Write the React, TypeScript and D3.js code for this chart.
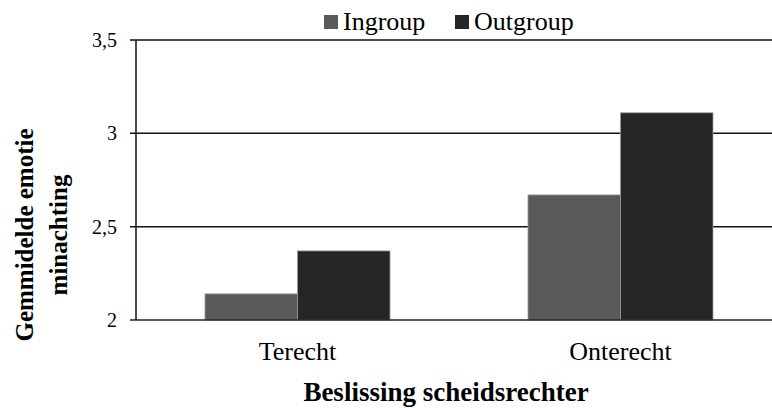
import { useMemo } from "react";
import * as d3 from "d3";

const categories = ["Terecht", "Onterecht"];
const series = ["Ingroup", "Outgroup"];
const ingroupValues = [2.14, 2.67];
const outgroupValues = [2.37, 3.11];
const yTicks = [2, 2.5, 3, 3.5];

const COLORS: Record<string, string> = { Ingroup: "#5a5a5a", Outgroup: "#262626" };
const FONT = "'Liberation Serif', 'Times New Roman', serif";

const WIDTH = 772;
const HEIGHT = 408;
const MARGIN = { top: 40, right: -10, bottom: 88, left: 136 };

const App = () => {
  const boundsWidth = WIDTH - MARGIN.left - MARGIN.right;
  const boundsHeight = HEIGHT - MARGIN.top - MARGIN.bottom;

  const rows = useMemo(
    () =>
      categories.map((c, i) => ({
        category: c,
        Ingroup: ingroupValues[i],
        Outgroup: outgroupValues[i],
      })),
    []
  );

  const xScale = d3.scaleBand().domain(categories).range([0, boundsWidth]);
  const xInner = d3
    .scaleBand()
    .domain(series)
    .range([0, xScale.bandwidth()])
    .paddingOuter(0.746);
  const yScale = d3.scaleLinear().domain([2, 3.5]).range([boundsHeight, 0]);
  const fmt = (v: number) => String(v).replace(".", ",");

  return (
    <svg
      width={WIDTH}
      height={HEIGHT}
      style={{ position: "absolute", left: 0, top: 0, background: "#fff" }}
      fontFamily={FONT}
    >
      {/* legend */}
      <g>
        {series.map((s, i) => {
          const lx = [324, 455][i];
          return (
            <g key={s}>
              <rect x={lx} y={15} width={14} height={14} fill={COLORS[s]} />
              <text x={lx + 19} y={30} fontSize={26}>
                {s}
              </text>
            </g>
          );
        })}
      </g>

      <g transform={`translate(${MARGIN.left},${MARGIN.top})`}>
        {/* gridlines */}
        {yTicks
          .filter((t) => t > 2)
          .map((t) => (
            <line
              key={t}
              x1={-6}
              x2={boundsWidth}
              y1={yScale(t)}
              y2={yScale(t)}
              stroke="#111"
              strokeWidth={1.5}
            />
          ))}

        {/* bars */}
        {rows.map((r) => (
          <g key={r.category} transform={`translate(${xScale(r.category)},0)`}>
            {series.map((s) => {
              const v = (r as any)[s] as number;
              return (
                <rect
                  key={s}
                  x={xInner(s)}
                  y={yScale(v)}
                  width={xInner.bandwidth()}
                  height={boundsHeight - yScale(v)}
                  fill={COLORS[s]}
                  stroke="#9a9a9a"
                  strokeWidth={0.8}
                />
              );
            })}
          </g>
        ))}

        {/* baseline and y axis */}
        <line x1={-6} x2={boundsWidth} y1={yScale(2)} y2={yScale(2)} stroke="#222" strokeWidth={1.5} />
        <line x1={0} x2={0} y1={yScale(3.5)} y2={yScale(2)} stroke="#111" strokeWidth={1.5} />

        {/* y tick labels */}
        {yTicks.map((t) => (
          <text
            key={t}
            x={-19}
            y={yScale(t)}
            dy="0.35em"
            textAnchor="end"
            fontSize={20}
          >
            {fmt(t)}
          </text>
        ))}

        {/* category labels */}
        {categories.map((c) => (
          <text
            key={c}
            x={(xScale(c) ?? 0) + xScale.bandwidth() / 2}
            y={boundsHeight + 40}
            textAnchor="middle"
            fontSize={26}
          >
            {c}
          </text>
        ))}
      </g>

      {/* axis titles */}
      <text x={446} y={401} textAnchor="middle" fontSize={27} fontWeight="bold">
        Beslissing scheidsrechter
      </text>
      <text
        transform="translate(33,235) rotate(-90)"
        textAnchor="middle"
        fontSize={25}
        fontWeight="bold"
      >
        <tspan x={0} y={0}>Gemmidelde emotie</tspan>
        <tspan x={0} y={34}>minachting</tspan>
      </text>
    </svg>
  );
};

export default App;
